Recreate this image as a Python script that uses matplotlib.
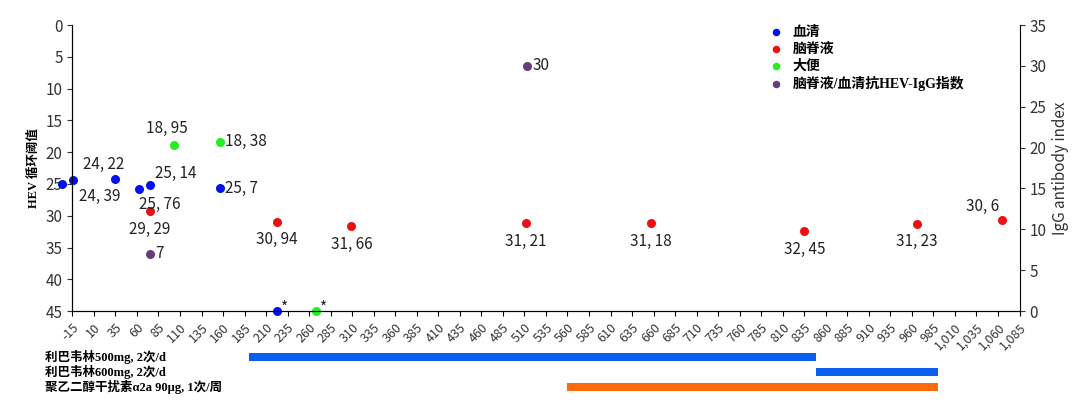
import matplotlib
matplotlib.use("Agg")
import matplotlib.pyplot as plt
import numpy as np

plt.rcParams['font.family'] = ['Noto Sans CJK SC', 'DejaVu Sans']

serum_x = [-27, -14, 34, 62, 75, 156, 223]
serum_y = [25.0, 24.39, 24.22, 25.76, 25.14, 25.7, 45]
serum_lbl = ["", "24, 39", "24, 22", "25, 76", "25, 14", "25, 7", "*"]
csf_x = [75, 223, 309, 512, 657, 835, 966, 1065]
csf_y = [29.29, 30.94, 31.66, 31.21, 31.18, 32.45, 31.23, 30.6]
csf_lbl = ["29, 29", "30, 94", "31, 66", "31, 21", "31, 18", "32, 45", "31, 23", "30, 6"]
stool_x = [103, 156, 268]
stool_y = [18.95, 18.38, 45]
stool_lbl = ["18, 95", "18, 38", "*"]
idx_x = [75, 513]
idx_y = [7, 30]
idx_lbl = ["7", "30"]

regimens = ["利巴韦林500mg, 2次/d", "利巴韦林600mg, 2次/d", "聚乙二醇干扰素α2a 90μg, 1次/周"]
reg_start = [190, 849, 560]
reg_end = [849, 990, 990]
reg_color = ["#0a5ef0", "#0a5ef0", "#ff6a0d"]

fig = plt.figure(figsize=(10.8, 4.17), dpi=100)
ax = fig.add_axes([0.067, 0.254, 0.877, 0.686])
xt = np.arange(-15, 1086, 25)
ax.set_xlim(-15, 1085)
ax.set_ylim(45, 0)
ax.set_xticks(xt)
ax.set_xticklabels([f"{v:,}" for v in xt], rotation=45, ha='right', rotation_mode='anchor', fontsize=9, color='#333')
ax.set_yticks(range(0, 46, 5))
ax.tick_params(axis='y', labelsize=11, colors='#333')
ax.set_ylabel("HEV 循环阈值", fontsize=9, fontweight='bold', family=['Liberation Serif', 'Noto Sans CJK SC'])
ax.spines['top'].set_visible(False)
ax.spines['right'].set_visible(False)

ax2 = ax.twinx()
ax2.set_ylim(0, 35)
ax2.set_yticks(range(0, 36, 5))
ax2.tick_params(axis='y', labelsize=11, colors='#333')
ax2.set_ylabel("IgG antibody index", fontsize=11, color='#333')
ax2.spines['top'].set_visible(False)

ms = 30
ax.scatter(serum_x, serum_y, s=ms, color='#0010ee', label='血清', zorder=3, clip_on=False)
ax.scatter(csf_x, csf_y, s=ms, color='#ee1010', label='脑脊液', zorder=3, clip_on=False)
ax.scatter(stool_x, stool_y, s=ms, color='#22ee22', label='大便', zorder=3, clip_on=False)
ax.scatter([], [], s=ms, color='#663d7a', label='脑脊液/血清抗HEV-IgG指数')
ax2.scatter(idx_x, idx_y, s=ms, color='#663d7a', zorder=3)

fs = 11
def lab(x, y, t, dx, dy, ha, va, a=ax):
    a.annotate(t, (x, y), xytext=(dx, dy), textcoords='offset points', ha=ha, va=va, fontsize=fs, color='#222')

lab(serum_x[1], serum_y[1], serum_lbl[1], 4, -6, 'left', 'top')
lab(serum_x[2], serum_y[2], serum_lbl[2], -8, 4, 'center', 'bottom')
lab(serum_x[3], serum_y[3], serum_lbl[3], 0, -5, 'left', 'top')
lab(serum_x[4], serum_y[4], serum_lbl[4], 4, 2, 'left', 'bottom')
lab(serum_x[5], serum_y[5], serum_lbl[5], 4, 0, 'left', 'center')
lab(serum_x[6], serum_y[6], serum_lbl[6], 3, 2, 'left', 'center')
for i, (x, y, t) in enumerate(zip(csf_x, csf_y, csf_lbl)):
    if i == 7:
        lab(x, y, t, -2, 3, 'right', 'bottom')
    else:
        lab(x, y, t, 0, -7, 'center', 'top')
lab(stool_x[0], stool_y[0], stool_lbl[0], -5, 6, 'center', 'bottom')
lab(stool_x[1], stool_y[1], stool_lbl[1], 4, 0, 'left', 'center')
lab(stool_x[2], stool_y[2], stool_lbl[2], 3, 2, 'left', 'center')
for x, y, t in zip(idx_x, idx_y, idx_lbl):
    lab(x, y, t, 4, 0, 'left', 'center', a=ax2)

ax.legend(loc='upper right', bbox_to_anchor=(0.955, 1.04), frameon=False,
          prop={'size': 10, 'weight': 'bold', 'family': ['Liberation Serif', 'Noto Sans CJK SC']},
          handletextpad=0.2, labelspacing=0.25, markerscale=0.8)

bx = fig.add_axes([0.067, 0.05, 0.877, 0.115])
bx.set_xlim(-15, 1085)
bx.set_ylim(2.6, -0.6)
bx.axis('off')
for i, (s, e, c, r) in enumerate(zip(reg_start, reg_end, reg_color, regimens)):
    bx.barh(i, e - s, left=s, height=0.5, color=c)
    fig.text(0.042, 0.05 + 0.115 * (2.6 - i) / 3.2, r, fontsize=9, va='center', ha='left',
             family=['Liberation Serif', 'Noto Sans CJK SC'], fontweight='bold')

fig.savefig("out.png", dpi=100)
